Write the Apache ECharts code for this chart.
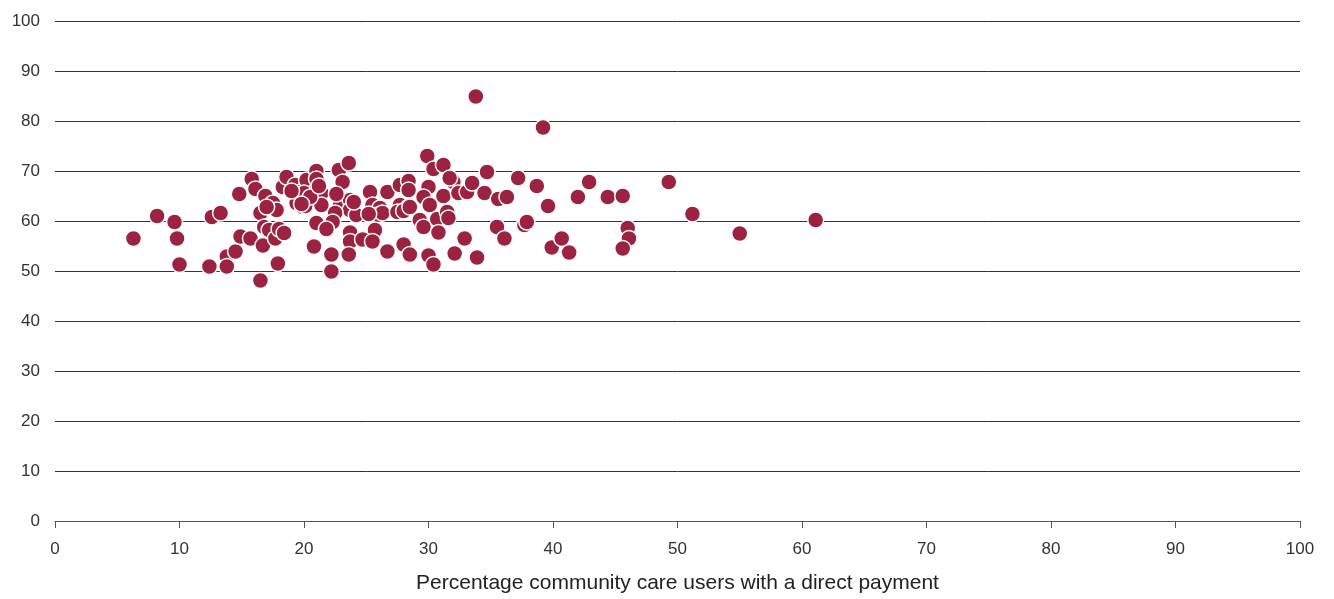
<!DOCTYPE html>
<html>
<head>
<meta charset="utf-8">
<script src="https://cdn.jsdelivr.net/npm/echarts@6/dist/echarts.min.js"></script>
<style>html,body{margin:0;padding:0;background:#fff}#c{width:1334px;height:599px}</style>
</head>
<body>
<div id="c"></div>
<script>
const xTicks = [0,10,20,30,40,50,60,70,80,90,100];
const yTicks = [0,10,20,30,40,50,60,70,80,90,100];
const xTitle = 'Percentage community care users with a direct payment';
const directPaymentPct = [
6.3,8.2,9.6,9.8,10.0,12.4,12.6,13.3,13.8,13.8,14.5,14.8,14.9,15.7,15.8,16.1,16.5,16.5,16.7,16.9,16.8,17.2,17.5,17.8,17.7,17.9,18.0,18.4,18.3,18.6,
19.3,19.7,19.4,19.9,20.2,21.0,21.0,22.8,23.6,23.1,20.0,21.1,21.4,20.1,21.4,22.8,22.9,23.7,23.7,24.2,22.5,22.3,21.0,21.8,25.3,25.5,26.1,26.7,25.9,25.7,
23.7,23.7,24.7,25.5,23.6,20.8,22.2,22.2,26.7,27.7,27.7,28.4,28.0,28.5,19.0,20.5,21.2,22.6,24.0,26.3,27.5,28.0,25.2,19.8,17.0,
29.9,30.4,31.2,28.4,28.4,30.0,29.6,30.1,31.2,32.0,31.7,32.4,33.1,33.5,34.7,34.5,33.8,35.6,36.3,37.2,28.5,29.3,29.6,30.7,30.8,31.5,31.6,30.0,30.4,32.1,
32.9,33.9,35.5,36.1,37.7,37.9,38.7,39.2,39.6,39.9,40.7,41.3,42.0,42.9,44.4,45.6,46.0,46.1,45.6,49.3,51.2,55.0,61.1
];
const outcomeScore = [
56.5,61.0,59.8,56.5,51.3,50.9,60.8,61.6,52.9,50.9,53.9,65.4,56.9,56.5,68.4,66.4,48.1,61.6,55.1,65.0,58.8,58.2,63.6,62.2,56.5,51.5,58.4,57.6,66.8,68.8,
67.2,65.8,63.6,62.8,68.2,70.0,68.4,70.2,71.6,67.8,65.6,66.6,65.6,63.0,63.2,64.8,63.2,64.2,62.2,61.2,61.6,59.8,59.6,58.4,65.8,63.2,62.6,65.8,61.2,58.2,
57.7,55.9,56.3,55.9,53.3,54.9,53.3,49.9,53.9,67.2,63.2,62.8,55.3,53.3,66.0,64.8,67.0,65.4,63.8,61.6,61.8,62.0,61.4,63.4,62.8,
73.0,70.4,71.2,68.0,66.2,66.8,64.8,63.2,65.0,67.8,68.6,65.6,65.8,67.6,69.8,65.6,84.9,64.4,64.8,68.6,62.8,60.2,58.8,60.4,57.7,61.8,60.6,53.1,51.3,53.5,
56.5,52.7,58.8,56.5,59.2,59.8,67.0,78.7,63.0,54.7,56.5,53.7,64.8,67.8,64.8,65.0,58.6,56.5,54.5,67.8,61.4,57.5,60.2
];
const points = directPaymentPct.map((x,i)=>[x,outcomeScore[i]]);
const chart = echarts.init(document.getElementById('c'), null, {renderer:'canvas'});
const font = 'Liberation Sans, Arial, sans-serif';
chart.setOption({
  animation:false,
  grid:{left:55,right:34,top:21,bottom:75,containLabel:false},
  xAxis:{type:'value',min:xTicks[0],max:xTicks[xTicks.length-1],interval:10,
    name:xTitle,nameLocation:'middle',nameGap:52,
    nameTextStyle:{fontFamily:font,fontSize:21,color:'#222'},
    axisLine:{show:true,lineStyle:{color:'#555',width:1}},
    axisTick:{show:true,length:7,lineStyle:{color:'#555'}},
    axisLabel:{fontFamily:font,fontSize:17,color:'#333',margin:20},
    splitLine:{show:false}},
  yAxis:{type:'value',min:yTicks[0],max:yTicks[yTicks.length-1],interval:10,
    axisLine:{show:false},axisTick:{show:false},
    axisLabel:{fontFamily:font,fontSize:17,color:'#333',margin:15},
    splitLine:{show:true,lineStyle:{color:'#333',width:1}}},
  series:[{type:'scatter',data:points,symbolSize:16,
    itemStyle:{color:'#9b2241',borderColor:'#fff',borderWidth:1.5,opacity:1}}]
});
</script>
</body>
</html>
